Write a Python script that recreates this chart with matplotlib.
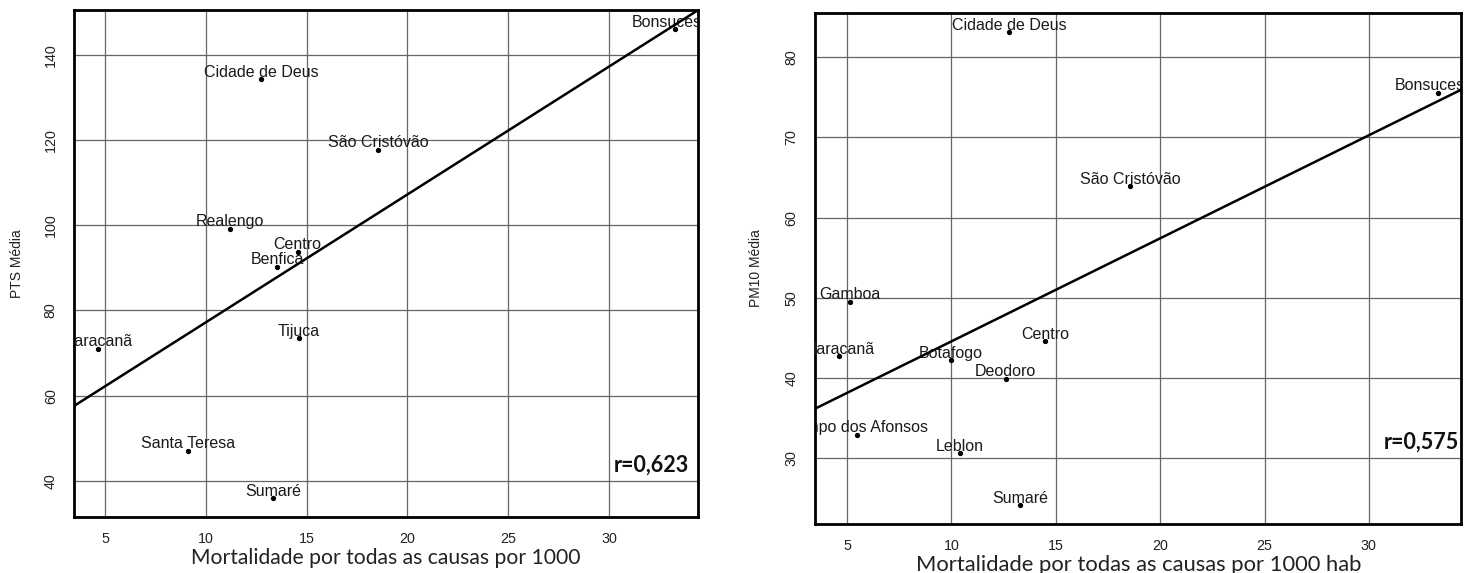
import numpy as np
import matplotlib
matplotlib.use("Agg")
import matplotlib.pyplot as plt
from matplotlib.transforms import offset_copy

# --- data ---
pts_names = ["Bonsucesso", "Cidade de Deus", "São Cristóvão", "Realengo", "Centro",
             "Benfica", "Tijuca", "Maracanã", "Santa Teresa", "Sumaré"]
pts_mort = [33.3, 12.75, 18.55, 11.2, 14.55, 13.55, 14.6, 4.63, 9.1, 13.35]
pts_media = [146.0, 134.2, 117.7, 99.2, 93.8, 90.3, 73.5, 71.0, 47.1, 35.9]
pts_fit = (47.2, 3.0)      # intercept, slope
pts_r = "r=0,623"

pm_names = ["Cidade de Deus", "Bonsucesso", "São Cristóvão", "Gamboa", "Centro",
            "Maracanã", "Botafogo", "Deodoro", "Campo dos Afonsos", "Leblon", "Sumaré"]
pm_mort = [12.75, 33.3, 18.55, 5.13, 14.5, 4.62, 9.98, 12.6, 5.47, 10.4, 13.3]
pm_media = [83.15, 75.6, 63.9, 49.5, 44.6, 42.7, 42.2, 39.9, 32.9, 30.6, 24.1]
pm_fit = (31.7, 1.286)
pm_r = "r=0,575"

x_ticks = [5, 10, 15, 20, 25, 30]
pts_yticks = [40, 60, 80, 100, 120, 140]
pm_yticks = [30, 40, 50, 60, 70, 80]

plt.rcParams["font.family"] = ["Liberation Sans", "DejaVu Sans"]

fig = plt.figure(figsize=(14.71, 5.73), dpi=100)
ax1 = fig.add_axes([0.0506, 0.0983, 0.4239, 0.8843])
ax2 = fig.add_axes([0.5543, 0.0860, 0.4390, 0.8908])


def panel(ax, names, xs, ys, fit, rtxt, rpos, yticks, ylim, ylabel, xlabel, xlsize):
    ax.set_xlim(3.48, 34.42)
    ax.set_ylim(*ylim)
    ax.set_xticks(x_ticks)
    ax.set_yticks(yticks)
    ax.grid(True, color="#666666", linewidth=0.9)
    ax.set_axisbelow(True)
    for s in ax.spines.values():
        s.set_linewidth(2.0)
    ax.tick_params(length=0, labelsize=10.3, colors="#222222")
    ax.tick_params(axis="x", pad=11)
    ax.tick_params(axis="y", pad=12, labelrotation=90)
    for lab in ax.get_yticklabels():
        lab.set_va("center")

    ax.plot(xs, ys, "o", color="black", markersize=2.8, zorder=3)
    trans = offset_copy(ax.transData, fig=fig, x=0, y=1.8, units="points")
    for n, x, y in zip(names, xs, ys):
        ax.text(x, y, n, transform=trans, ha="center", va="baseline",
                fontsize=11.5, color="#1a1a1a", clip_on=True)

    xx = np.array(ax.get_xlim())
    ax.plot(xx, fit[0] + fit[1] * xx, color="black", linewidth=1.8, zorder=4)

    ax.text(rpos[0], rpos[1], rtxt, transform=ax.transAxes, ha="right", va="center",
            fontsize=15.5, fontweight="bold", color="#111111",
            family=["Lato", "DejaVu Sans"])

    ax.set_ylabel(ylabel, fontsize=10, va="center", color="#222222")
    ax.yaxis.set_label_coords(-0.092, 0.5)
    ax.set_xlabel(xlabel, fontsize=xlsize, va="center", family=["Lato", "DejaVu Sans"],
                  color="#222222")
    ax.xaxis.set_label_coords(0.5, -0.081)


panel(ax1, pts_names, pts_mort, pts_media, pts_fit, pts_r, (0.986, 0.102),
      pts_yticks, (31.6, 150.5), "PTS Média",
      "Mortalidade por todas as causas por 1000", 15.2)
panel(ax2, pm_names, pm_mort, pm_media, pm_fit, pm_r, (0.996, 0.159),
      pm_yticks, (21.8, 85.5), "PM10 Média",
      "Mortalidade por todas as causas por 1000 hab", 15.8)

fig.savefig("out.png", dpi=100)
